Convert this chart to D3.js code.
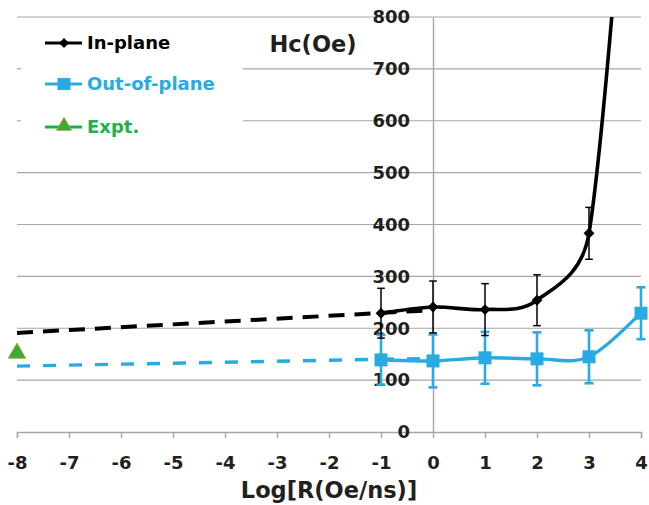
<!DOCTYPE html>
<html><head><meta charset="utf-8">
<script src="https://cdn.jsdelivr.net/npm/d3@7"></script>
<style>html,body{margin:0;padding:0;background:#fff;}svg{display:block;}</style>
</head><body>
<svg id="c" width="649" height="505"></svg>
<script>
const logR = [-1, 0, 1, 2, 3, 4];
const inPlane = [229, 241, 236, 254, 383, 1500];
const inPlaneErr = [48, 50, 50, 49, 50, 50];
const outPlane = [139, 137, 143, 141, 145, 229];
const outPlaneErr = [48, 51, 50, 51, 51, 50];
const extrapX = [-8, 0];
const inPlaneExtrap = [191, 235];
const outPlaneExtrap = [127, 142];
const exptX = [-8];
const exptY = [152];
const xTickValues = [-8,-7,-6,-5,-4,-3,-2,-1,0,1,2,3,4];
const yTickValues = [0,100,200,300,400,500,600,700,800];
const legendLabels = ["In-plane", "Out-of-plane", "Expt."];

const BLUE = "#29abe2", BLACK = "#000", GREEN = "#22b04b", TXT = "#231f20", GRID = "#a6a6a6";
const FONT = "'DejaVu Sans', sans-serif";

const svg = d3.select("#c");
const x = d3.scaleLinear().domain([-8, 4]).range([17, 641]);
const y = d3.scaleLinear().domain([0, 800]).range([432, 17]);

svg.append("defs").append("clipPath").attr("id","clip")
  .append("rect").attr("x", 8).attr("y", y(800)).attr("width", 641).attr("height", y(0) - y(800) + 2);

// gridlines
svg.append("g").selectAll("line").data(yTickValues.filter(d => d > 0)).join("line")
  .attr("x1", x(-8)).attr("x2", x(4)).attr("y1", d => y(d)).attr("y2", d => y(d))
  .attr("stroke", GRID).attr("stroke-width", 1.2);

// legend background
svg.append("rect").attr("x", 21).attr("y", 26).attr("width", 222).attr("height", 124).attr("fill", "#fff");

// x axis
const xAxis = svg.append("g").attr("transform", `translate(0,${y(0)})`)
  .call(d3.axisBottom(x).tickValues(xTickValues).tickSize(6).tickFormat(d => String(d)));
xAxis.select(".domain").attr("stroke", GRID).attr("stroke-width", 1.4);
xAxis.selectAll(".tick line").attr("stroke", GRID).attr("stroke-width", 1.4);
xAxis.selectAll(".tick text").attr("font-family", FONT).attr("font-weight", "bold")
  .attr("font-size", 18).attr("fill", TXT).attr("dy", null).attr("y", 37);

// y axis at x=0
const yAxis = svg.append("g").attr("transform", `translate(${x(0)},0)`)
  .call(d3.axisLeft(y).tickValues(yTickValues).tickSize(0).tickPadding(23).tickFormat(d => String(d)));
yAxis.select(".domain").attr("stroke", GRID).attr("stroke-width", 1.4);
yAxis.selectAll(".tick text").attr("font-family", FONT).attr("font-weight", "bold")
  .attr("font-size", 18).attr("fill", TXT);

const plot = svg.append("g").attr("clip-path", "url(#clip)");

// Excel-like smoothed line: Catmull-Rom tangents (1/6), control offsets limited to half the segment
function smoothPath(xs, ys) {
  const P = xs.map((v, i) => [x(v), y(ys[i])]);
  const n = P.length, p = d3.path();
  p.moveTo(P[0][0], P[0][1]);
  for (let i = 0; i < n - 1; i++) {
    const a = P[i], b = P[i + 1];
    const prev = P[Math.max(i - 1, 0)], next = P[Math.min(i + 2, n - 1)];
    const seg = Math.hypot(b[0] - a[0], b[1] - a[1]);
    const lim = (o) => { const L = Math.hypot(o[0], o[1]); const s = L > seg / 2 ? seg / 2 / L : 1; return [o[0] * s, o[1] * s]; };
    const o1 = lim([(b[0] - prev[0]) / 6, (b[1] - prev[1]) / 6]);
    const o2 = lim([(next[0] - a[0]) / 6, (next[1] - a[1]) / 6]);
    p.bezierCurveTo(a[0] + o1[0], a[1] + o1[1], b[0] - o2[0], b[1] - o2[1], b[0], b[1]);
  }
  return p.toString();
}
const straight = d3.line().x(d => x(d[0])).y(d => y(d[1]));

// solid curves
plot.append("path").attr("d", smoothPath(logR, outPlane))
  .attr("fill", "none").attr("stroke", BLUE).attr("stroke-width", 3.4);
plot.append("path").attr("d", smoothPath(logR, inPlane))
  .attr("fill", "none").attr("stroke", BLACK).attr("stroke-width", 3.6);

// dashed extrapolations
plot.append("path").attr("d", straight(extrapX.map((v,i) => [v, outPlaneExtrap[i]])))
  .attr("fill", "none").attr("stroke", BLUE).attr("stroke-width", 3.4).attr("stroke-dasharray", "13,13");
plot.append("path").attr("d", straight(extrapX.map((v,i) => [v, inPlaneExtrap[i]])))
  .attr("fill", "none").attr("stroke", BLACK).attr("stroke-width", 4).attr("stroke-dasharray", "16,10");

// error bars
function errBars(vals, errs, color, w, cap) {
  const g = plot.append("g").attr("stroke", color).attr("stroke-width", w);
  logR.forEach((v, i) => {
    const cx = x(v), y1 = y(vals[i] + errs[i]), y2 = y(vals[i] - errs[i]);
    g.append("line").attr("x1", cx).attr("x2", cx).attr("y1", y1).attr("y2", y2);
    g.append("line").attr("x1", cx - cap).attr("x2", cx + cap).attr("y1", y1).attr("y2", y1);
    g.append("line").attr("x1", cx - cap).attr("x2", cx + cap).attr("y1", y2).attr("y2", y2);
  });
}
errBars(outPlane, outPlaneErr, BLUE, 2.6, 4.5);
errBars(inPlane, inPlaneErr, BLACK, 1.5, 3.8);

// markers
plot.append("g").selectAll("rect").data(logR.map((v,i) => [v, outPlane[i]])).join("rect")
  .attr("x", d => x(d[0]) - 6.5).attr("y", d => y(d[1]) - 6.5).attr("width", 13).attr("height", 13).attr("fill", BLUE);
const diamond = d3.symbol().type(d3.symbolDiamond2).size(75);
plot.append("g").selectAll("path").data(logR.map((v,i) => [v, inPlane[i]])).join("path")
  .attr("d", diamond).attr("transform", d => `translate(${x(d[0])},${y(d[1])})`).attr("fill", BLACK);

const tri = d3.symbol().type(d3.symbolTriangle).size(130);
plot.append("g").selectAll("path").data(exptX.map((v,i) => [v, exptY[i]])).join("path")
  .attr("d", tri).attr("transform", d => `translate(${x(d[0])},${y(d[1])})`)
  .attr("fill", "#3aaa35").attr("stroke", "#a3a13a").attr("stroke-width", 1);

// axis titles
svg.append("text").attr("x", 313).attr("y", 52).attr("text-anchor", "middle")
  .attr("font-family", FONT).attr("font-weight", "bold").attr("font-size", 22.5).attr("fill", TXT).text("Hc(Oe)");
svg.append("text").attr("x", 329).attr("y", 498).attr("text-anchor", "middle")
  .attr("font-family", FONT).attr("font-weight", "bold").attr("font-size", 22.5).attr("fill", TXT).text("Log[R(Oe/ns)]");

// legend
const legColors = [BLACK, BLUE, GREEN];
const legY = [43, 84, 127];
const leg = svg.append("g");
legendLabels.forEach((lab, i) => {
  leg.append("line").attr("x1", 45).attr("x2", 82).attr("y1", legY[i]).attr("y2", legY[i])
    .attr("stroke", legColors[i]).attr("stroke-width", 3.2);
  if (i === 0) leg.append("path").attr("d", d3.symbol().type(d3.symbolDiamond2).size(65))
    .attr("transform", `translate(64,${legY[i]})`).attr("fill", BLACK);
  if (i === 1) leg.append("rect").attr("x", 57.5).attr("y", legY[i] - 6).attr("width", 13).attr("height", 12).attr("fill", BLUE);
  if (i === 2) leg.append("path").attr("d", d3.symbol().type(d3.symbolTriangle).size(95))
    .attr("transform", `translate(64,${legY[i] - 1})`).attr("fill", "#3aaa35").attr("stroke", "#a3a13a").attr("stroke-width", 1);
  leg.append("text").attr("x", 87).attr("y", legY[i] + 6).attr("font-family", FONT).attr("font-weight", "bold")
    .attr("font-size", 18).attr("fill", legColors[i]).text(lab);
});
</script>
</body></html>
